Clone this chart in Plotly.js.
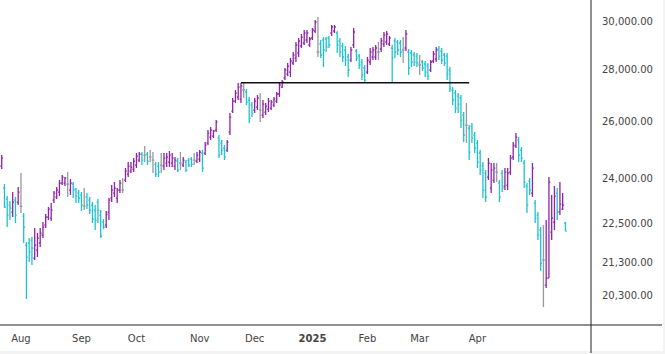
<!DOCTYPE html>
<html><head><meta charset="utf-8">
<script src="https://cdn.plot.ly/plotly-3.0.1.min.js"></script>
<style>html,body{margin:0;padding:0;background:#f3f3f3;}#chart{width:665px;height:354px;}</style>
</head><body><div id="chart"></div>
<script>
// ---- data ----
const startDate = '2024-07-23';
const holidays = ['2024-09-02','2024-11-28','2024-12-25','2025-01-01','2025-01-09','2025-01-20','2025-02-17','2025-04-18'];

const openP = [
24413,23662,23294,23097,22868,23261,23195,23064,22738,21820,
21883,21976,21421,21666,21883,22133,22449,22706,22674,23261,
23361,23528,23830,23830,23797,23595,23797,23628,23494,23427,
23064,23361,23261,23097,22933,23195,22771,22545,22449,22868,
23328,23494,23328,23595,23595,23932,24137,24240,24309,24448,
24622,24833,24798,24833,24727,24622,24482,24413,24448,24413,
24517,24552,24517,24413,24587,24517,24448,24552,24622,24657,
24622,24587,24657,24868,24868,25224,25440,25476,25695,25404,
25224,25046,24975,25622,26398,26776,26929,26852,27198,27121,
26814,26624,26435,26548,26435,26248,26360,26473,26511,26624,
26776,27044,27314,27666,27823,27902,28262,28463,28666,28953,
29077,29201,28994,29284,29577,28707,29035,29201,29242,29284,
29493,29577,29493,29159,28953,28789,28504,28382,28994,28748,
28544,28302,28062,27902,28302,28504,28504,28707,28830,29035,
29118,29035,28871,29159,29118,29077,28789,28871,28707,28666,
28585,28544,28182,28302,28222,28141,27982,28342,28423,28830,
28748,28585,28544,27982,27198,27082,26967,26891,26248,25878,
25768,25841,25513,25224,24868,24413,24172,24034,23662,23932,
24206,23830,24172,23729,23763,24206,24727,25117,25332,24975,
24517,23729,23898,23494,23162,22771,22290,21360,20614,20821,
22227,22545,23494,22868,22966,22513];

const highP = [
24798,23797,23394,23228,23528,23361,23695,24172,22835,21914,
22039,22070,22354,22196,22354,22545,22803,23031,23162,23561,
23695,23932,24103,24034,24206,23966,23864,23662,23595,23528,
23662,23494,23361,23195,23097,23294,22933,22642,22900,23328,
23763,23864,23662,23932,24000,24344,24552,24552,24692,24868,
24904,24904,25117,24904,24975,24904,24552,24552,24868,24868,
24868,24939,24868,24727,24692,24904,24727,24622,24692,24727,
24868,24904,24975,24975,25260,25695,25804,25695,26062,25513,
25332,25153,25332,26323,26891,27198,27470,27470,27470,27237,
26929,26738,26891,27005,27082,26814,26700,26891,26814,26929,
27121,27470,27587,28062,28262,28463,28707,29118,29284,29451,
29619,29619,29325,29703,30043,30170,29201,29325,29325,29367,
29830,29830,29577,29284,29077,28953,28626,28912,29703,28830,
28626,28423,28182,28504,28871,28912,28994,29118,29284,29535,
29577,29367,28994,29284,29201,29201,29325,29619,28830,28789,
28707,28666,28585,28382,28342,28262,28382,28748,28912,28953,
28871,28666,28666,28101,27314,27198,27082,27005,26360,26700,
25878,25952,25622,25332,24975,24552,24275,24692,24517,24517,
24517,23932,24275,24344,24344,24798,25260,25585,25440,25081,
24622,23830,24000,24517,23261,22868,22385,22449,22610,24034,
23427,23729,23662,23864,23494,22545];

const lowP = [
24309,22998,22385,22610,22706,22513,23097,22835,21883,20208,
21300,21209,21360,21451,21758,22039,22354,22610,22577,23162,
23294,23394,23763,23729,23361,23427,23328,23162,23162,22900,
22933,22966,22803,22513,22290,22513,22039,22322,22354,22610,
23195,23361,23162,23494,23494,23864,24034,24172,24206,24344,
24552,24448,24552,24448,24552,24172,24034,24034,24172,24275,
24378,24378,24378,24275,24206,24275,24378,24206,24378,24378,
24448,24517,24552,24206,24798,25153,25332,25404,25622,24692,
24798,24622,24904,25513,26323,26700,26814,26700,26891,26624,
25952,26174,26323,26435,25988,26137,26248,26360,26435,26548,
26700,26929,27275,27587,27744,27705,28182,28302,28504,28871,
28994,29077,28912,29201,29493,28504,28463,28101,28707,28871,
29367,29493,28666,28504,28302,28141,27705,28302,28871,28342,
28022,27587,27509,27823,28182,28382,28382,28382,28707,28912,
28994,28953,27509,28463,28585,28504,28262,28748,27784,28101,
28141,28101,27784,27942,27705,27587,27902,28262,28302,28382,
28222,28141,27587,27121,26624,26323,26323,25768,25260,25224,
24622,25224,24868,24344,24103,23328,23195,23932,23494,23830,
23864,23195,23528,23595,23595,24103,24622,25046,24552,24552,
23662,22835,23427,23361,22513,21976,21029,19980,20527,20821,
21976,22290,22610,22771,22933,22259];

const closeP = [
24692,23031,22771,22998,23195,22771,23528,23064,22385,21451,
21604,21727,21820,22039,22196,22385,22706,22966,22933,23494,
23595,23830,24034,24000,23797,23830,23595,23394,23328,23097,
23064,23097,22933,22642,22610,22933,22101,22385,22803,23261,
23595,23662,23595,23830,23595,24240,24413,24378,24587,24762,
24833,24622,24798,24587,24727,24622,24137,24206,24448,24692,
24727,24798,24692,24622,24275,24517,24622,24275,24448,24482,
24622,24798,24904,24344,25153,25585,25695,25658,25988,24798,
24975,24727,25260,26174,26776,27082,27314,27353,27198,26738,
26137,26323,26776,26891,26435,26662,26586,26776,26738,26852,
27044,27392,27509,27982,28141,28342,28585,28994,29159,29325,
29493,29493,29242,29619,29958,28707,28585,28789,28912,28994,
29745,29745,28994,28707,28504,28382,27982,28789,29535,28463,
28182,27784,27587,28382,28707,28789,28871,28707,29159,29409,
29451,29284,28463,28707,28789,28707,28789,29451,28062,28302,
28302,28262,28182,28062,27902,27744,28302,28626,28789,28544,
28382,28262,27823,27275,26814,26511,26662,26062,25513,25878,
24904,25404,25046,24552,24275,23595,23361,24517,24275,24344,
24206,23361,23662,24206,24172,24692,25153,25440,24798,24692,
23864,23097,23595,24344,22674,22133,21269,21360,20821,23864,
22674,23394,22868,23129,23097,22259];

const monthLabels = ['Aug','Sep','Oct','Nov','Dec','<b>2025</b>','Feb','Mar','Apr'];
const yTickValues = [20300, 21300, 22500, 24000, 26000, 28000, 30000];
const yTickLabels = ['20,300.00','21,300.00','22,500.00','24,000.00','26,000.00','28,000.00','30,000.00'];
const levelValue = 27480;
const levelStart = '2024-11-22';
const levelEnd = '2025-03-27';

// ---- trading calendar ----
function tradingDays(start, n) {
  const out = [];
  const d = new Date(start + 'T00:00:00Z');
  while (out.length < n) {
    const dow = d.getUTCDay();
    const s = d.toISOString().slice(0, 10);
    if (dow !== 0 && dow !== 6 && holidays.indexOf(s) < 0) out.push(s);
    d.setUTCDate(d.getUTCDate() + 1);
  }
  return out;
}
const dates = tradingDays(startDate, closeP.length);

// first trading day of each month gets the next month label
const tickVals = [], tickText = [];
for (let i = 1; i < dates.length && tickVals.length < monthLabels.length; i++) {
  if (dates[i].slice(5, 7) !== dates[i - 1].slice(5, 7)) {
    tickVals.push(dates[i]);
    tickText.push(monthLabels[tickVals.length - 1]);
  }
}

const COLORS = {up: '#8E24AA', down: '#1FC2D0', flat: '#9A9A9A'};
function ohlcTrace(pred, color) {
  const pick = arr => arr.map((v, i) => pred(i) ? v : null);
  return {
    type: 'ohlc', x: dates,
    open: pick(openP), high: pick(highP), low: pick(lowP), close: pick(closeP),
    increasing: {line: {color: color, width: 1.3}},
    decreasing: {line: {color: color, width: 1.3}},
    tickwidth: 0.5, showlegend: false
  };
}
const traces = [
  ohlcTrace(i => closeP[i] > openP[i], COLORS.up),
  ohlcTrace(i => closeP[i] < openP[i], COLORS.down),
  ohlcTrace(i => closeP[i] === openP[i], COLORS.flat),
  {type: 'scatter', mode: 'lines', x: [levelStart, levelEnd], y: [levelValue, levelValue],
   line: {color: '#111', width: 1.5}, hoverinfo: 'skip', showlegend: false}
];

const W = 665, H = 354, mL = 0, mR = 74, mT = 0, mB = 29;
const pw = W - mL - mR, ph = H - mT - mB;
const layout = {
  width: W, height: H,
  margin: {l: mL, r: mR, t: mT, b: mB, pad: 0},
  paper_bgcolor: '#f3f3f3', plot_bgcolor: '#ffffff',
  showlegend: false,
  font: {family: 'DejaVu Sans, sans-serif', size: 10, color: '#444'},
  xaxis: {
    type: 'category', range: [-0.62, 214.3],
    tickvals: tickVals, ticktext: tickText,
    showgrid: false, zeroline: false, showline: false, ticks: '',
    ticklabelstandoff: 6,
    tickfont: {family: 'DejaVu Sans, sans-serif', size: 10, color: '#444'},
    rangeslider: {visible: false}, fixedrange: true
  },
  yaxis: {
    type: 'log', side: 'right',
    range: [Math.log10(19478), Math.log10(30909)],
    tickvals: yTickValues, ticktext: yTickLabels,
    showgrid: false, zeroline: false, showline: false, ticks: '',
    ticklabelstandoff: 10,
    tickfont: {family: 'DejaVu Sans, sans-serif', size: 10, color: '#444'},
    fixedrange: true
  },
  shapes: [
    {type: 'rect', xref: 'paper', yref: 'paper', x0: 0, x1: 663 / pw, y0: -(351 - ph) / ph, y1: 1,
     fillcolor: '#ffffff', line: {width: 0}, layer: 'below'},
    {type: 'line', xref: 'paper', yref: 'paper', x0: 1, x1: 1, y0: -(353 - ph) / ph, y1: 1,
     line: {color: '#222', width: 1}},
    {type: 'line', xref: 'paper', yref: 'paper', x0: 0, x1: 662 / pw, y0: 0, y1: 0,
     line: {color: '#222', width: 1}}
  ]
};
Plotly.newPlot('chart', traces, layout, {displayModeBar: false, staticPlot: true});
</script>
</body></html>
